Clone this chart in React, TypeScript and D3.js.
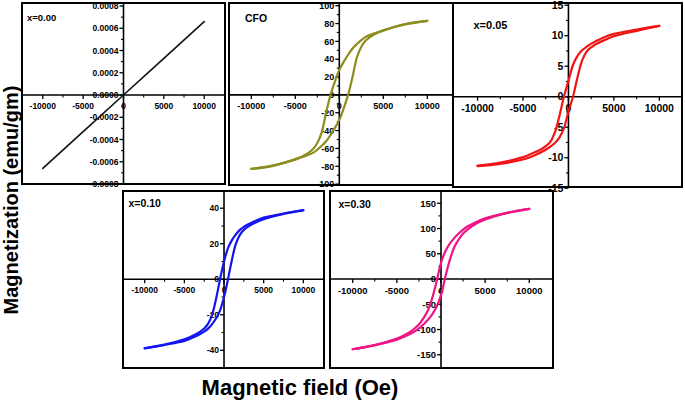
import React from 'react';
import * as d3 from 'd3';

// Applied field values (Oe) shared by the hysteresis branches
const H = [-10000, -7500, -5000, -4000, -3000, -2500, -2000, -1500, -1000, -500, 0, 500, 1000, 1500, 2000, 2500, 3000, 4000, 5000, 7500, 10000];

// x = 0.00 (linear, paramagnetic)
const H000 = [-10000, -5000, 0, 5000, 10000];
const M000 = [-0.00066, -0.00033, 0, 0.00033, 0.00066];

// CFO
const cfoUpper = [-83, -79.5, -72, -68, -61, -54, -42, -20, 0, 15, 28, 37, 45, 52, 57, 61.5, 65, 69, 72.5, 79, 83];
const cfoLower = [-83, -79, -72.5, -69, -65, -61.5, -57, -52, -45, -37, -28, -15, 0, 20, 42, 54, 61, 68, 72, 79.5, 83];

// x = 0.05
const x005Upper = [-11.3, -10.8, -9.9, -9.3, -8.6, -8.1, -7.4, -5.9, -3.2, 0, 2.6, 5.2, 6.7, 7.6, 8.2, 8.7, 9.1, 9.8, 10.3, 11.0, 11.6];
const x005Lower = [-11.4, -11.0, -10.3, -9.8, -9.1, -8.7, -8.2, -7.6, -6.7, -5.2, -2.4, 0, 3.2, 5.9, 7.4, 8.1, 8.6, 9.3, 9.9, 10.8, 11.6];

// x = 0.10
const x010Upper = [-38.8, -36.8, -33.8, -32, -29.5, -27.8, -25, -20, -11, 0, 10, 17.5, 22, 25.3, 27.8, 29.5, 30.8, 33, 34.7, 37, 39];
const x010Lower = [-39, -37, -34.7, -33, -30.8, -29.5, -27.8, -25.3, -22, -17.5, -10, 0, 11, 20, 25, 27.8, 29.5, 32, 33.8, 36.8, 38.8];

// x = 0.30
const x030Upper = [-139, -131, -118, -110, -98, -90, -78, -63, -38, -5, 32, 55, 70, 81, 90, 98, 104, 113, 120, 131, 139];
const x030Lower = [-139, -131, -120, -113, -104, -98, -90, -81, -70, -55, -32, 5, 38, 63, 78, 90, 98, 110, 118, 131, 139];

// Tick labels
const xTicks = [-10000, -5000, 0, 5000, 10000];
const xMinorTicks = [-7500, -2500, 2500, 7500];
const yTicks000 = [-0.0008, -0.0006, -0.0004, -0.0002, 0, 0.0002, 0.0004, 0.0006, 0.0008];
const yTicksCFO = [-100, -80, -60, -40, -20, 0, 20, 40, 60, 80, 100];
const yTicks005 = [-15, -10, -5, 0, 5, 10, 15];
const yTicks010 = [-40, -20, 0, 20, 40];
const yTicks030 = [-150, -100, -50, 0, 50, 100, 150];

const panelLabels = ['x=0.00', 'CFO', 'x=0.05', 'x=0.10', 'x=0.30'];
const colors = ['#111111', '#8c8c1f', '#f01414', '#1414f0', '#ee1485'];

type Panel = {
  label: string;
  color: string;
  box: [number, number, number, number];
  xDom: [number, number];
  yDom: [number, number];
  yTicks: number[];
  fmt: (v: number) => string;
  fs: number;
  lab: { x: number; y: number; fs: number };
  branches: { h: number[]; m: number[] }[];
  curve: any;
  sw: number;
};

const fmtInt = (v: number) => String(v);
const fmt4 = (v: number) => (Math.abs(v) < 1e-12 ? '0.0000' : (v < 0 ? '-' : '') + Math.abs(v).toFixed(4));

const smooth = d3.curveCatmullRom.alpha(0.5);

const panels: Panel[] = [
  {
    label: panelLabels[0], color: colors[0], box: [22, 3, 225, 184], xDom: [-12577, 12577], yDom: [-0.0008, 0.000827],
    yTicks: yTicks000, fmt: fmt4, fs: 8.5, lab: { x: 27, y: 20.5, fs: 9.5 },
    branches: [{ h: H000, m: M000 }], curve: d3.curveLinear, sw: 1.6,
  },
  {
    label: panelLabels[1], color: colors[1], box: [229, 3, 453, 185], xDom: [-12534, 12920], yDom: [-101, 103],
    yTicks: yTicksCFO, fmt: fmtInt, fs: 9, lab: { x: 245, y: 22.3, fs: 10.5 },
    branches: [{ h: H, m: cfoUpper }, { h: H, m: cfoLower }], curve: smooth, sw: 2.2,
  },
  {
    label: panelLabels[2], color: colors[2], box: [453, 3, 682, 187], xDom: [-12703, 12495], yDom: [-14.8, 15.36],
    yTicks: yTicks005, fmt: fmtInt, fs: 10.5, lab: { x: 473.5, y: 29.3, fs: 11 },
    branches: [{ h: H, m: x005Upper }, { h: H, m: x005Lower }], curve: smooth, sw: 2.2,
  },
  {
    label: panelLabels[3], color: colors[3], box: [123, 191, 324, 368], xDom: [-12740, 12610], yDom: [-50, 49.7],
    yTicks: yTicks010, fmt: fmtInt, fs: 8.5, lab: { x: 128.5, y: 206.5, fs: 10.5 },
    branches: [{ h: H, m: x010Upper }, { h: H, m: x010Lower }], curve: smooth, sw: 2.2,
  },
  {
    label: panelLabels[4], color: colors[4], box: [330, 191, 553, 368], xDom: [-12571, 12684], yDom: [-176.2, 174.3],
    yTicks: yTicks030, fmt: fmtInt, fs: 9.5, lab: { x: 338.5, y: 208, fs: 10.5 },
    branches: [{ h: H, m: x030Upper }, { h: H, m: x030Lower }], curve: smooth, sw: 2.2,
  },
];

const FONT = '"Liberation Sans", Arial, sans-serif';

function PanelView({ p }: { p: Panel }) {
  const [l, t, r, b] = p.box;
  const xs = d3.scaleLinear().domain(p.xDom).range([l, r]);
  const ys = d3.scaleLinear().domain(p.yDom).range([b, t]);
  const x0 = xs(0);
  const y0 = ys(0);
  const yMinor: number[] = [];
  for (let i = 0; i < p.yTicks.length - 1; i++) yMinor.push((p.yTicks[i] + p.yTicks[i + 1]) / 2);
  const line = d3
    .line<[number, number]>()
    .x((d) => xs(d[0]))
    .y((d) => ys(d[1]))
    .curve(p.curve);
  return (
    <g>
      <rect x={l} y={t} width={r - l} height={b - t} fill="#fff" />
      <line x1={l} x2={r} y1={y0} y2={y0} stroke="#000" strokeWidth={1.6} />
      <line x1={x0} x2={x0} y1={t} y2={b} stroke="#000" strokeWidth={1.6} />
      {p.yTicks.map((v) => (
        <g key={'y' + v}>
          <line x1={x0 - 4} x2={x0} y1={ys(v)} y2={ys(v)} stroke="#000" strokeWidth={1.3} />
          <text x={x0 - 5} y={ys(v)} dy="0.36em" textAnchor="end" fontSize={p.fs} fontWeight="bold" fontFamily={FONT} fill="#000">
            {p.fmt(v)}
          </text>
        </g>
      ))}
      {yMinor.map((v) => (
        <line key={'ym' + v} x1={x0 - 2.5} x2={x0} y1={ys(v)} y2={ys(v)} stroke="#000" strokeWidth={1.1} />
      ))}
      {xTicks.map((v) => (
        <g key={'x' + v}>
          <line x1={xs(v)} x2={xs(v)} y1={y0} y2={y0 + 4} stroke="#000" strokeWidth={1.3} />
          <text x={xs(v)} y={y0 + 5 + p.fs} textAnchor="middle" fontSize={p.fs} fontWeight="bold" fontFamily={FONT} fill="#000">
            {v}
          </text>
        </g>
      ))}
      {xMinorTicks.map((v) => (
        <line key={'xm' + v} x1={xs(v)} x2={xs(v)} y1={y0} y2={y0 + 2.5} stroke="#000" strokeWidth={1.1} />
      ))}
      {p.branches.map((br, i) => (
        <path
          key={'c' + i}
          d={line(br.h.map((h, j) => [h, br.m[j]] as [number, number])) || ''}
          fill="none"
          stroke={p.color}
          strokeWidth={p.sw}
          strokeLinejoin="round"
          strokeLinecap="round"
        />
      ))}
      <text x={p.lab.x} y={p.lab.y} fontSize={p.lab.fs} fontWeight="bold" fontFamily={FONT} fill="#000">
        {p.label}
      </text>
      <rect x={l} y={t} width={r - l} height={b - t} fill="none" stroke="#000" strokeWidth={2} />
    </g>
  );
}

export default function App() {
  return (
    <svg
      width={685}
      height={404}
      viewBox="0 0 685 404"
      style={{ position: 'absolute', left: 0, top: 0, background: '#fff' }}
    >
      <rect x={0} y={0} width={685} height={404} fill="#fff" />
      {panels.map((p, i) => (
        <PanelView key={i} p={p} />
      ))}
      <text
        transform="translate(17.5,200) rotate(-90)"
        textAnchor="middle"
        fontSize={20}
        fontWeight="bold"
        fontFamily={FONT}
        fill="#000"
      >
        Magnetization (emu/gm)
      </text>
      <text x={300} y={394.5} textAnchor="middle" fontSize={22} fontWeight="bold" fontFamily={FONT} fill="#000">
        Magnetic field (Oe)
      </text>
    </svg>
  );
}
